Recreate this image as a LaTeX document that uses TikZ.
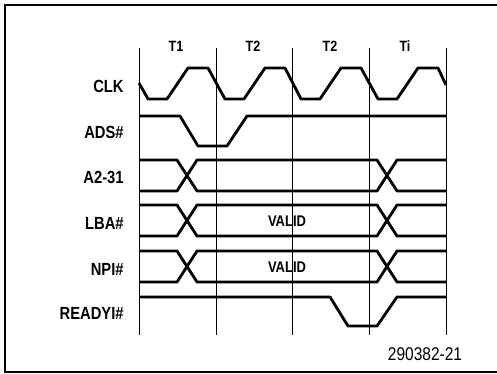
\documentclass[tikz,border=0pt]{standalone}
\usepackage{fontspec}
\setmainfont{Liberation Sans}
\newfontfamily\narrowfont[FakeStretch=0.84]{Liberation Sans}
\usepackage{tikz}
\usetikzlibrary{positioning}

\begin{document}
\begin{tikzpicture}[
  x=0.02cm, y=-0.02cm,
  sig/.style={line width=1.6pt, line join=round},
  period/.style={line width=0.5pt},
  boxframe/.style={line width=0.9pt},
  signame/.style={anchor=east, font=\narrowfont\bfseries\fontsize{10}{11}\selectfont, inner sep=0pt},
  validtxt/.style={font=\narrowfont\bfseries\fontsize{8.8}{9}\selectfont, inner sep=0pt},
  cyc/.style={font=\narrowfont\bfseries\fontsize{8.5}{9}\selectfont, inner sep=0pt},
]
\useasboundingbox (0,0) rectangle (497,374);
\draw[boxframe] (497,5) -- (5,5) -- (5,372) -- (497,372);

% clock periods
\foreach \x in {139,216,292,369,446}
  \draw[period] (\x,48) -- (\x,335);
\node[cyc] (tone) at (176,46) {T1};
\node[cyc] (ttwoa) at (253,46) {T2};
\node[cyc] (ttwob) at (330,46) {T2};
\node[cyc] (tidle) at (405,46) {Ti};

% signal names
\node[signame] (clk) at (124,86) {CLK};
\node[signame] (ads) at (124,132) {ADS\#};
\node[signame] (addr) at (124,177) {A2-31};
\node[signame] (lba) at (124,223) {LBA\#};
\node[signame] (npi) at (124,269) {NPI\#};
\node[signame] (ready) at (124,313) {READYI\#};

% waveforms
\draw[sig] (139,83) foreach \p in {139,216,292,369}
  { -- (\p+9,99) -- (\p+28,99) -- (\p+49,68) -- (\p+69,68) } -- (446,85);
\draw[sig] (139,116) -- (180,116) -- (198,146) -- (227,146) -- (247,116) -- (446,116);
\foreach \t/\b in {160/191,205/236,251/282} {
  \draw[sig] (139,\t) -- (177,\t) -- (197,\b) -- (377,\b) -- (397,\t) -- (446,\t);
  \draw[sig] (139,\b) -- (177,\b) -- (197,\t) -- (377,\t) -- (397,\b) -- (446,\b);
}
\draw[sig] (139,297) -- (330,297) -- (348,326) -- (377,326) -- (397,297) -- (446,297);

\node[validtxt] (valida) at (287,221) {VALID};
\node[validtxt] (validb) at (287,267) {VALID};

\node[font=\narrowfont\fontsize{10.5}{11}\selectfont, inner sep=0pt] (fignum) at (425,354) {290382-21};
\end{tikzpicture}
\end{document}
